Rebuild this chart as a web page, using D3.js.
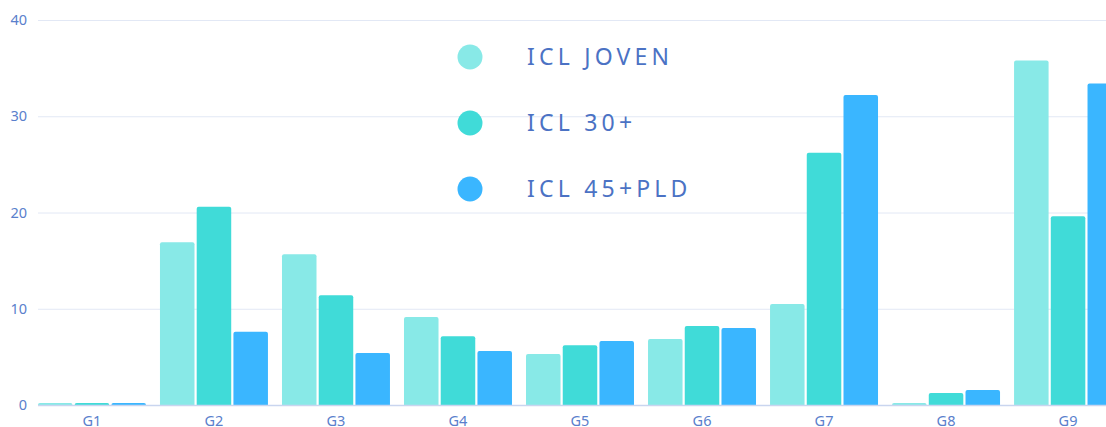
<!DOCTYPE html>
<html>
<head>
<meta charset="utf-8">
<script src="https://cdn.jsdelivr.net/npm/d3@7"></script>
<style>
  html, body { margin: 0; padding: 0; background: #fff; overflow: hidden; }
  svg { display: block; font-family: "Noto Sans", "Open Sans", sans-serif; }
</style>
</head>
<body>
<svg width="1106" height="427"></svg>
<script>
var categories = ["G1", "G2", "G3", "G4", "G5", "G6", "G7", "G8", "G9"];
var seriesNames = ["ICL JOVEN", "ICL 30+", "ICL 45+PLD"];
var joven = [0.2, 16.9, 15.65, 9.15, 5.3, 6.85, 10.5, 0.2, 35.8];
var icl30 = [0.2, 20.6, 11.4, 7.15, 6.2, 8.2, 26.2, 1.25, 19.6];
var icl45 = [0.2, 7.6, 5.4, 5.6, 6.65, 8.0, 32.2, 1.55, 33.4];
var yTicks = [0, 10, 20, 30, 40];
var colors = ["#88e9e7", "#40dbd8", "#3ab6ff"];

var svg = d3.select("svg"),
    width = +svg.attr("width"),
    height = +svg.attr("height");

var series = [joven, icl30, icl45];

var x = d3.scaleBand()
    .domain(categories)
    .range([31, 1129])
    .paddingInner(0.115)
    .paddingOuter(0.057);

var x1 = d3.scaleBand()
    .domain(d3.range(series.length))
    .range([0, x.bandwidth()])
    .paddingInner(0.06);

var y = d3.scaleLinear()
    .domain([0, 40])
    .range([405, 20]);

// grid
svg.append("g")
    .selectAll("line")
    .data(yTicks.slice(1))
    .enter().append("line")
    .attr("x1", 38)
    .attr("x2", width)
    .attr("y1", function(d) { return y(d) + 0.5; })
    .attr("y2", function(d) { return y(d) + 0.5; })
    .attr("stroke", "#e2e8f5")
    .attr("stroke-width", 1);

// y labels
svg.append("g")
    .selectAll("text")
    .data(yTicks)
    .enter().append("text")
    .attr("x", 27)
    .attr("y", function(d) { return y(d); })
    .attr("dy", "0.36em")
    .attr("text-anchor", "end")
    .attr("fill", "#5a80cc")
    .style("font-size", "14.5px")
    .text(function(d) { return d; });

function topRounded(x0, y0, w, h, r) {
  r = Math.min(r, h, w / 2);
  return "M" + x0 + "," + (y0 + h) +
    "V" + (y0 + r) +
    "Q" + x0 + "," + y0 + " " + (x0 + r) + "," + y0 +
    "H" + (x0 + w - r) +
    "Q" + (x0 + w) + "," + y0 + " " + (x0 + w) + "," + (y0 + r) +
    "V" + (y0 + h) + "Z";
}

var groups = svg.append("g")
    .selectAll("g")
    .data(categories)
    .enter().append("g")
    .attr("transform", function(d) { return "translate(" + x(d) + ",0)"; });

groups.selectAll("path")
    .data(function(d, i) { return series.map(function(s, k) { return {k: k, v: s[i]}; }); })
    .enter().append("path")
    .attr("d", function(d) {
      var top = y(d.v);
      return topRounded(x1(d.k), top, x1.bandwidth(), y(0) - top, 2);
    })
    .attr("fill", function(d) { return colors[d.k]; });

// x axis line
svg.append("line")
    .attr("x1", 38)
    .attr("x2", width)
    .attr("y1", 405.5)
    .attr("y2", 405.5)
    .attr("stroke", "#c9d5ef")
    .attr("stroke-width", 1.5);

// x labels
svg.append("g")
    .selectAll("text")
    .data(categories)
    .enter().append("text")
    .attr("x", function(d) { return x(d) + x.bandwidth() / 2; })
    .attr("y", 426)
    .attr("text-anchor", "middle")
    .attr("fill", "#5a80cc")
    .style("font-size", "14.5px")
    .text(function(d) { return d; });

// legend
var legend = svg.append("g")
    .selectAll("g")
    .data(seriesNames)
    .enter().append("g")
    .attr("transform", function(d, i) { return "translate(0," + (57 + i * 66) + ")"; });

legend.append("circle")
    .attr("cx", 470)
    .attr("cy", 0)
    .attr("r", 12.5)
    .attr("fill", function(d, i) { return colors[i]; });

legend.append("text")
    .attr("x", 527)
    .attr("y", 0)
    .attr("dy", "0.35em")
    .attr("fill", "#4b72c4")
    .style("font-size", "23px")
    .style("letter-spacing", "4.2px")
    .text(function(d) { return d; });
</script>
</body>
</html>
